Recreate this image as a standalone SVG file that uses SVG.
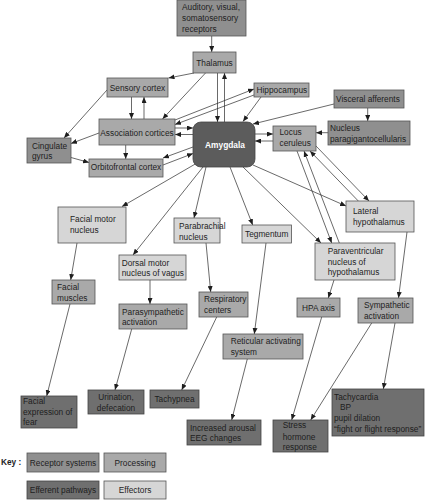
<svg xmlns="http://www.w3.org/2000/svg" width="425" height="500" viewBox="0 0 425 500">
<defs>
<marker id="arr" viewBox="0 0 6 5" markerWidth="6" markerHeight="5" markerUnits="userSpaceOnUse" refX="6" refY="2.5" orient="auto">
<path d="M0,0 L6,2.5 L0,5 z" fill="#1e1e1e"/>
</marker>
<style>
text{font-family:"Liberation Sans",Arial,sans-serif;font-size:8.3px;fill:#1e1e1e}
.c{text-anchor:middle}
.rec{fill:#8f8f8f;stroke:#555;stroke-width:0.8}
.pro{fill:#a9a9a9;stroke:#555;stroke-width:0.8}
.eff{fill:#6f6f6f;stroke:#444;stroke-width:0.8}
.lit{fill:#d6d6d6;stroke:#555;stroke-width:0.8}
.amy{fill:#5c5c5c;stroke:#444;stroke-width:0.8}
#connectors line{stroke:#2a2a2a;stroke-width:0.7;marker-end:url(#arr)}
</style>
</defs>
<rect width="425" height="500" fill="#fff"/>
<g id="connectors">
<line x1="211.7" y1="36" x2="211.7" y2="52"/>
<line x1="194" y1="73" x2="168.5" y2="78"/>
<line x1="205.5" y1="73" x2="162.5" y2="119"/>
<line x1="217.5" y1="73" x2="217.5" y2="122"/>
<line x1="224.5" y1="122" x2="224.5" y2="73"/>
<line x1="131.5" y1="97" x2="131.5" y2="119"/>
<line x1="144" y1="119" x2="144" y2="97"/>
<line x1="107" y1="90" x2="64" y2="138"/>
<line x1="99" y1="133" x2="71" y2="143.5"/>
<line x1="71" y1="157.5" x2="89" y2="162.5"/>
<line x1="125.7" y1="145" x2="125.7" y2="159"/>
<line x1="175" y1="128" x2="193" y2="128"/>
<line x1="193" y1="134.5" x2="175" y2="134.5"/>
<line x1="175" y1="120" x2="254" y2="89"/>
<line x1="254" y1="95" x2="175" y2="124.5"/>
<line x1="261" y1="97" x2="243" y2="121.5"/>
<line x1="334" y1="104" x2="253" y2="124"/>
<line x1="367.7" y1="108" x2="367.7" y2="121"/>
<line x1="328" y1="132.7" x2="316" y2="132.7"/>
<line x1="255" y1="134" x2="273" y2="134"/>
<line x1="273" y1="141" x2="255" y2="141"/>
<line x1="193" y1="147" x2="163" y2="158"/>
<line x1="163" y1="165" x2="193" y2="153.5"/>
<line x1="197" y1="163" x2="122" y2="206.5"/>
<line x1="203" y1="167" x2="133" y2="255"/>
<line x1="206" y1="167" x2="194" y2="218"/>
<line x1="230" y1="167" x2="252.7" y2="225"/>
<line x1="243" y1="167" x2="321" y2="243"/>
<line x1="253" y1="165" x2="346" y2="206"/>
<line x1="297" y1="151" x2="331.7" y2="243"/>
<line x1="339.3" y1="243" x2="304" y2="151"/>
<line x1="358.3" y1="201" x2="310" y2="151"/>
<line x1="316" y1="146" x2="369" y2="201"/>
<line x1="266" y1="243" x2="254.3" y2="334"/>
<line x1="206" y1="243" x2="210.7" y2="292"/>
<line x1="77" y1="243" x2="70.7" y2="280"/>
<line x1="150" y1="280" x2="150" y2="304"/>
<line x1="70" y1="304" x2="46.7" y2="396"/>
<line x1="131.7" y1="329" x2="115" y2="390"/>
<line x1="216.7" y1="317" x2="181.7" y2="390"/>
<line x1="247.3" y1="359" x2="231.7" y2="420"/>
<line x1="321.7" y1="317" x2="291.7" y2="420"/>
<line x1="371.7" y1="323" x2="310.7" y2="420"/>
<line x1="395" y1="323" x2="383.3" y2="389"/>
<line x1="407" y1="232" x2="398.5" y2="298"/>
<line x1="334" y1="280" x2="328.3" y2="298"/>
</g>
<g id="receptors"><rect class="rec" x="177" y="0" width="69" height="36"/><text x="182" y="10">Auditory, visual,</text><text x="182" y="21">somatosensory</text><text x="182" y="32">receptors</text></g>
<g id="thalamus"><rect class="pro" x="193" y="52" width="43" height="21"/><text class="c" x="214.5" y="65.5">Thalamus</text></g>
<g id="sensory-cortex"><rect class="pro" x="107" y="78" width="61" height="19"/><text class="c" x="137.5" y="91">Sensory cortex</text></g>
<g id="hippocampus"><rect class="pro" x="254" y="83" width="55" height="14"/><text x="256.5" y="93">Hippocampus</text></g>
<g id="visceral-afferents"><rect class="rec" x="334" y="90" width="70" height="18"/><text x="336" y="102">Visceral afferents</text></g>
<g id="nucleus-paragigantocellularis"><rect class="rec" x="328" y="121" width="82" height="24"/><text x="330" y="131">Nucleus</text><text x="330" y="142">paragigantocellularis</text></g>
<g id="locus-ceruleus"><rect class="pro" x="273" y="126" width="43" height="25"/><text x="279.5" y="135">Locus</text><text x="279.5" y="146">ceruleus</text></g>
<g id="amygdala"><rect class="amy" x="193" y="122" width="62" height="45" rx="8"/><text class="c" x="225" y="148" style="fill:#fff;font-weight:bold;font-size:8.4px">Amygdala</text></g>
<g id="association-cortices"><rect class="pro" x="99" y="119" width="76" height="26"/><text class="c" x="137" y="135.5">Association cortices</text></g>
<g id="cingulate-gyrus"><rect class="rec" x="27" y="138" width="44" height="25"/><text x="32" y="148.7">Cingulate</text><text x="32" y="159">gyrus</text></g>
<g id="orbitofrontal-cortex"><rect class="pro" x="89" y="159" width="74" height="18"/><text class="c" x="126" y="169.8">Orbitofrontal cortex</text></g>
<g id="facial-motor-nucleus"><rect class="lit" x="58" y="207" width="68" height="36"/><text x="70" y="222">Facial motor</text><text x="70" y="233">nucleus</text></g>
<g id="parabrachial-nucleus"><rect class="lit" x="174" y="218" width="46" height="25"/><text x="179" y="228.5">Parabrachial</text><text x="179" y="239.5">nucleus</text></g>
<g id="tegmentum"><rect class="lit" x="242" y="225" width="49.5" height="18"/><text class="c" x="266.7" y="237">Tegmentum</text></g>
<g id="lateral-hypothalamus"><rect class="lit" x="346" y="201" width="68" height="31"/><text x="353" y="213.5">Lateral</text><text x="353" y="224.5">hypothalamus</text></g>
<g id="paraventricular-nucleus"><rect class="lit" x="315" y="243" width="80" height="37"/><text x="327.7" y="254">Paraventricular</text><text x="327.7" y="264.7">nucleus of</text><text x="327.7" y="275.3">hypothalamus</text></g>
<g id="dorsal-motor-nucleus"><rect class="lit" x="119" y="255" width="67" height="25"/><text x="121.7" y="265.7">Dorsal motor</text><text x="121.7" y="276.3">nucleus of vagus</text></g>
<g id="facial-muscles"><rect class="pro" x="52" y="280" width="43" height="24"/><text x="57" y="289.7">Facial</text><text x="57" y="300.7">muscles</text></g>
<g id="parasympathetic-activation"><rect class="pro" x="119" y="304" width="68" height="25"/><text x="122" y="314.7">Parasympathetic</text><text x="122" y="325">activation</text></g>
<g id="respiratory-centers"><rect class="pro" x="199" y="292" width="49" height="25"/><text x="204" y="302.3">Respiratory</text><text x="204" y="313">centers</text></g>
<g id="hpa-axis"><rect class="pro" x="297" y="298" width="43" height="19"/><text class="c" x="318.5" y="310.7">HPA axis</text></g>
<g id="sympathetic-activation"><rect class="pro" x="358" y="298" width="55" height="25"/><text x="364" y="308">Sympathetic</text><text x="364" y="319">activation</text></g>
<g id="reticular-activating-system"><rect class="pro" x="223" y="334" width="80" height="25"/><text x="230.7" y="344">Reticular activating</text><text x="230.7" y="355">system</text></g>
<g id="facial-expression"><rect class="eff" x="21" y="396" width="56" height="32"/><text x="23" y="403.7">Facial</text><text x="23" y="414.7">expression of</text><text x="23" y="425.3">fear</text></g>
<g id="urination-defecation"><rect class="eff" x="88" y="390" width="56" height="24"/><text class="c" x="116" y="400.3">Urination,</text><text class="c" x="116" y="411.3">defecation</text></g>
<g id="tachypnea"><rect class="eff" x="150" y="390" width="49" height="18"/><text class="c" x="174.5" y="402.3">Tachypnea</text></g>
<g id="increased-arousal"><rect class="eff" x="187" y="420" width="74" height="25"/><text x="190" y="430.7">Increased arousal</text><text x="190" y="441.3">EEG changes</text></g>
<g id="stress-hormone-response"><rect class="eff" x="273" y="420" width="55" height="32"/><text x="282.7" y="428.3">Stress</text><text x="282.7" y="439.7">hormone</text><text x="282.7" y="450.3">response</text></g>
<g id="tachycardia"><rect class="eff" x="332" y="389" width="92" height="47"/><text x="334" y="399.7">Tachycardia</text><text x="340" y="410.3">BP</text><text x="334" y="421.3">pupil dilation</text><text x="334" y="432">“fight or flight response”</text></g>
<g id="key">
<text x="1" y="464.7" style="font-weight:bold">Key :</text>
<rect class="rec" x="27" y="453" width="72" height="19"/><text class="c" x="63" y="465.5">Receptor systems</text>
<rect class="pro" x="104" y="453" width="62" height="19"/><text class="c" x="135" y="465.5">Processing</text>
<rect class="eff" x="27" y="481" width="72" height="18"/><text class="c" x="63" y="493">Efferent pathways</text>
<rect class="lit" x="104" y="481" width="62" height="18"/><text class="c" x="135" y="493">Effectors</text>
</g>
</svg>
